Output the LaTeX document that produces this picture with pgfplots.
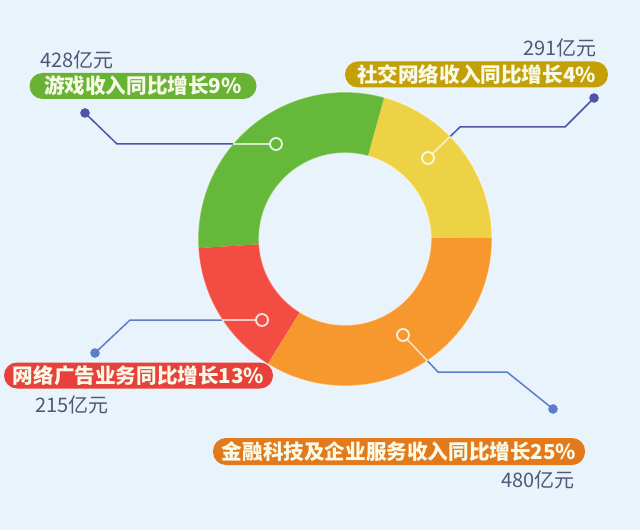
\documentclass[border=0pt]{standalone}
\usepackage{pgfplots}
\pgfplotsset{compat=1.18}
\usepackage{pgfplotstable}
\usepackage{fontspec}
\setmainfont{Noto Sans}
\newfontfamily\cjk{Noto Sans CJK SC}

\definecolor{bg}{RGB}{233,243,251}
\definecolor{cgreen}{RGB}{102,184,58}
\definecolor{cyellow}{RGB}{238,210,70}
\definecolor{corange}{RGB}{247,152,46}
\definecolor{cred}{RGB}{243,76,66}
\definecolor{pgreen}{RGB}{104,178,52}
\definecolor{pyellow}{RGB}{196,160,8}
\definecolor{pred}{RGB}{232,64,58}
\definecolor{porange}{RGB}{226,122,28}
\definecolor{lineA}{RGB}{78,84,168}
\definecolor{lineB}{RGB}{92,124,204}
\definecolor{valtxt}{RGB}{80,88,118}
\definecolor{pilltxt}{RGB}{248,250,232}

\pgfplotstableread{
seg value
1 291
2 428
3 215
4 480
}\shares

\newcommand\seg[3]{\fill[#3] ([shift={(#1:73.5pt)}]c) arc[start angle=#1,end angle=#2,radius=73.5pt] -- ([shift={(#2:43pt)}]c) arc[start angle=#2,end angle=#1,radius=43pt] -- cycle;}

\tikzset{
  pill/.style={rounded corners=6.5pt, minimum height=13pt, inner sep=0pt, text=pilltxt,
    font=\cjk\bfseries\fontsize{10.3}{12}\selectfont},
  val/.style={text=valtxt, inner sep=0pt, font=\cjk\fontsize{10}{12}\selectfont},
  blue line/.style={line width=0.75pt, mark=*, mark indices={1}, mark size=2pt},
  light line/.style={white, opacity=0.7, line width=0.75pt},
  ring mark/.style={only marks, mark=o, mark size=3pt, white, opacity=0.85, mark options={line width=0.9pt}},
}

\begin{document}
\begin{tikzpicture}
\pgfplotstablegetelem{0}{value}\of\shares \pgfmathsetmacro\va{\pgfplotsretval}
\pgfplotstablegetelem{1}{value}\of\shares \pgfmathsetmacro\vb{\pgfplotsretval}
\pgfplotstablegetelem{2}{value}\of\shares \pgfmathsetmacro\vc{\pgfplotsretval}
\pgfplotstablegetelem{3}{value}\of\shares \pgfmathsetmacro\vd{\pgfplotsretval}
\pgfmathsetmacro\tot{\va+\vb+\vc+\vd}
\pgfmathsetmacro\aA{0.5}
\pgfmathsetmacro\aB{\aA+360*(\va/\tot)}
\pgfmathsetmacro\aC{\aB+360*(\vb/\tot)}
\pgfmathsetmacro\aD{\aC+360*(\vc/\tot)}
\pgfmathsetmacro\aE{\aD+360*(\vd/\tot)}
\begin{axis}[x=0.5pt, y=0.5pt, xmin=0, xmax=640, ymin=0, ymax=530,
  hide axis, clip=false]
\fill[bg] (axis cs:0,0) rectangle (axis cs:640,530);
\coordinate (c) at (axis cs:345,291);
\seg{\aA}{\aB}{cyellow}
\seg{\aB}{\aC}{cgreen}
\seg{\aC}{\aD}{cred}
\seg{\aD}{\aE}{corange}
\draw[white, opacity=0.5, line width=0.6pt] (c) circle[radius=73.5pt];
\draw[white, opacity=0.5, line width=0.6pt] (c) circle[radius=43pt];

% leader lines
\addplot[blue line, lineA, mark options={fill=lineA}] coordinates {(85,417) (117,386) (233,386)};
\addplot[light line] coordinates {(233,386) (270,386)};
\addplot[ring mark] coordinates {(276,386)};

\addplot[blue line, lineA, mark options={fill=lineA}] coordinates {(594,432) (565,403) (460,403) (450.3,393.6)};
\addplot[light line] coordinates {(450.3,393.6) (432.2,376.1)};
\addplot[ring mark] coordinates {(428,372)};

\addplot[blue line, lineB, mark options={fill=lineB}] coordinates {(95,177) (130,210) (222,210)};
\addplot[light line] coordinates {(222,210) (256,210)};
\addplot[ring mark] coordinates {(262,210)};

\addplot[blue line, lineB, mark options={fill=lineB}] coordinates {(553,121) (507,158) (438,158) (427.4,169.2)};
\addplot[light line] coordinates {(427.4,169.2) (407.1,190.6)};
\addplot[ring mark] coordinates {(403,195)};

% labels
\node[pill, fill=pgreen, minimum width=113.5pt] at (axis cs:143,444) {游戏收入同比增长9\%};
\node[val, anchor=west] at (axis cs:40,470) {428亿元};

\node[pill, fill=pyellow, minimum width=131.5pt] at (axis cs:476.5,455.5) {社交网络收入同比增长4\%};
\node[val, anchor=east] at (axis cs:597,482) {291亿元};

\node[pill, fill=pred, minimum width=134.5pt] at (axis cs:138.5,154.5) {网络广告业务同比增长13\%};
\node[val, anchor=west] at (axis cs:35,125) {215亿元};

\node[pill, fill=porange, minimum width=186pt, minimum height=13.5pt] at (axis cs:399,78.5) {金融科技及企业服务收入同比增长25\%};
\node[val, anchor=east] at (axis cs:575,50) {480亿元};
\end{axis}
\end{tikzpicture}
\end{document}
